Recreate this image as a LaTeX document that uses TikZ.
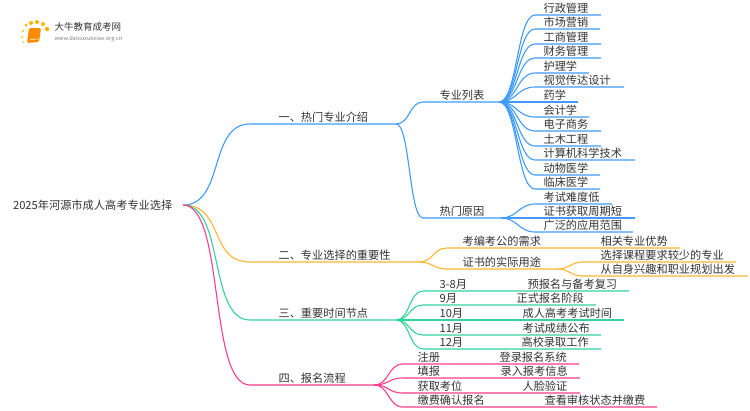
\documentclass[tikz,border=0pt]{standalone}
\usepackage{fontspec}
\setmainfont{Noto Sans CJK SC}
\usetikzlibrary{positioning}
\definecolor{blueline}{HTML}{3F9BFF}
\definecolor{orangeline}{HTML}{FFB62E}
\definecolor{greenline}{HTML}{35D29A}
\definecolor{pinkline}{HTML}{FF3D8B}
\definecolor{inktext}{HTML}{333333}
\tikzset{leaf/.style = {anchor=south west, inner sep=0, align=left, text=inktext, text height=9, text depth=1.5, font=\fontsize{11.2}{11.2}\selectfont}}
\tikzset{wire/.style 2 args = {to path={.. controls +(#2,0) and ([xshift=-#1-#2]\tikztotarget.south west) .. ([xshift=-#1]\tikztotarget.south west) -- (\tikztotarget.south east)}}}
\begin{document}
\begin{tikzpicture}[x=1pt, y=-1pt, line width=1.1pt]
    \useasboundingbox (0, 0) rectangle (750, 410);

    % logo
    \begin{scope}
      \foreach \px/\py/\pr in {22/37/1, 23/42/0.8, 23/31/1.2, 26/25/1.5, 31/23/2, 37/22/2, 43/24/2, 47/29/2.2}
        \fill [orange!60!yellow] (\px, \py) circle [radius=\pr];
      \fill [rounded corners=1.5, orange!90!yellow] (29, 28) -- (41, 28) -- (39, 42) -- (27, 43) -- cycle;
      \draw [white, line width=0.5] (30, 39.5) -- (38.5, 39);
      \node [anchor=west, inner sep=0, text=inktext, font=\fontsize{9.5}{9.5}\selectfont] (logotitle) at (54, 27) {大牛教育成考网};
      \node [anchor=west, inner sep=0, text=gray, font=\fontsize{5.6}{5.6}\selectfont] (logourl) at (54, 38.5) {www.daniuxuexiao.org.cn};
      \fill [left color=white, middle color=gray!35, right color=white] (50, 33) rectangle (134, 33.6);
    \end{scope}

    \node [leaf, anchor=west, text height=8.4, text depth=0, text width=169.5] (root) at (12.5, 205) {2025年河源市成人高考专业选择};

    \node [leaf, text width=117] (rm) at (278, 124) {一、热门专业介绍};
    \node [leaf, text width=140] (zy) at (278, 262) {二、专业选择的重要性};
    \node [leaf, text width=117] (sj) at (278, 320) {三、重要时间节点};
    \node [leaf, text width=95] (bm) at (278, 385) {四、报名流程};
    \draw [blueline] (root.east) to [wire={28}{42}] (rm);
    \draw [orangeline] (root.east) to [wire={28}{42}] (zy);
    \draw [greenline] (root.east) to [wire={28}{42}] (sj);
    \draw [pinkline] (root.east) to [wire={28}{42}] (bm);

    % blue
    \begin{scope}[blueline]
      \node [leaf, text width=59] (lb) at (439, 102) {专业列表};
      \node [leaf, text width=61] (yy) at (439, 218) {热门原因};
      \draw (rm.south east) to [wire={16}{14}] (lb);
      \draw (rm.south east) to [wire={16}{14}] (yy);

      \node [leaf, text width=57] (a1) at (543, 15) {行政管理};
      \node [leaf, text width=56] (a2) at (543, 29) {市场营销};
      \node [leaf, text width=57] (a3) at (543, 44) {工商管理};
      \node [leaf, text width=57] (a4) at (543, 58) {财务管理};
      \node [leaf, text width=45] (a5) at (543, 73) {护理学};
      \node [leaf, text width=80] (a6) at (543, 87) {视觉传达设计};
      \node [leaf, text width=34] (a7) at (543, 102) {药学};
      \node [leaf, text width=45] (a8) at (543, 117) {会计学};
      \node [leaf, text width=57] (a9) at (543, 131) {电子商务};
      \node [leaf, text width=57] (a10) at (543, 146) {土木工程};
      \node [leaf, text width=91] (a11) at (543, 160) {计算机科学技术};
      \node [leaf, text width=56] (a12) at (543, 175) {动物医学};
      \node [leaf, text width=56] (a13) at (543, 189) {临床医学};
      \foreach \leafname in {a1, a2, a3, a4, a5, a6, a7, a8, a9, a10, a11, a12, a13}
        \draw (lb.south east) to [wire={8}{18}] (\leafname);

      \node [leaf, text width=68] (b1) at (543, 204) {考试难度低};
      \node [leaf, text width=91] (b2) at (543, 218) {证书获取周期短};
      \node [leaf, text width=89] (b3) at (543, 232) {广泛的应用范围};
      \foreach \leafname in {b1, b2, b3}
        \draw (yy.south east) to [wire={8}{16}] (\leafname);
    \end{scope}

    % orange
    \begin{scope}[orangeline]
      \node [leaf] (c1) at (462, 248) {考编考公的需求};
      \node [leaf, text width=79] (c1a) at (600, 248) {相关专业优势};
      \node [leaf, text width=95] (c2) at (462, 269) {证书的实际用途};
      \node [leaf, text width=135] (c2a) at (600, 262) {选择课程要求较少的专业};
      \node [leaf, text width=147] (c2b) at (600, 276) {从自身兴趣和职业规划出发};
      \draw (zy.south east) to [wire={15}{14}] (c1) -- (c1a.south east);
      \draw (zy.south east) to [wire={15}{14}] (c2);
      \draw (c2.south east) to [wire={18}{10}] (c2a);
      \draw (c2.south east) to [wire={18}{10}] (c2b);
    \end{scope}

    % green
    \begin{scope}[greenline]
      \node [leaf] (d1) at (439, 291) {3-8月};
      \node [leaf, text width=101] (d1a) at (527, 291) {预报名与备考复习};
      \node [leaf] (d2) at (439, 305) {9月};
      \node [leaf, text width=79] (d2a) at (516, 305) {正式报名阶段};
      \node [leaf] (d3) at (439, 320) {10月};
      \node [leaf, text width=101] (d3a) at (522, 320) {成人高考考试时间};
      \node [leaf] (d4) at (439, 335) {11月};
      \node [leaf, text width=78] (d4a) at (522, 335) {考试成绩公布};
      \node [leaf] (d5) at (439, 349) {12月};
      \node [leaf, text width=79] (d5a) at (521, 349) {高校录取工作};
      \foreach \leafname in {d1, d2, d3, d4, d5}
        \draw (sj.south east) to [wire={16}{14}] (\leafname) -- (\leafname a.south east);
    \end{scope}

    % pink
    \begin{scope}[pinkline]
      \node [leaf] (e1) at (417, 364) {注册};
      \node [leaf, text width=79] (e1a) at (499, 364) {登录报名系统};
      \node [leaf] (e2) at (417, 378) {填报};
      \node [leaf, text width=79] (e2a) at (500, 378) {录入报考信息};
      \node [leaf] (e3) at (417, 393) {获取考位};
      \node [leaf, text width=57] (e3a) at (522, 393) {人脸验证};
      \node [leaf] (e4) at (417, 407) {缴费确认报名};
      \node [leaf, text width=112] (e4a) at (544, 407) {查看审核状态并缴费};
      \foreach \leafname in {e1, e2, e3, e4}
        \draw (bm.south east) to [wire={14}{15}] (\leafname) -- (\leafname a.south east);
    \end{scope}
  \end{tikzpicture}
\end{document}
